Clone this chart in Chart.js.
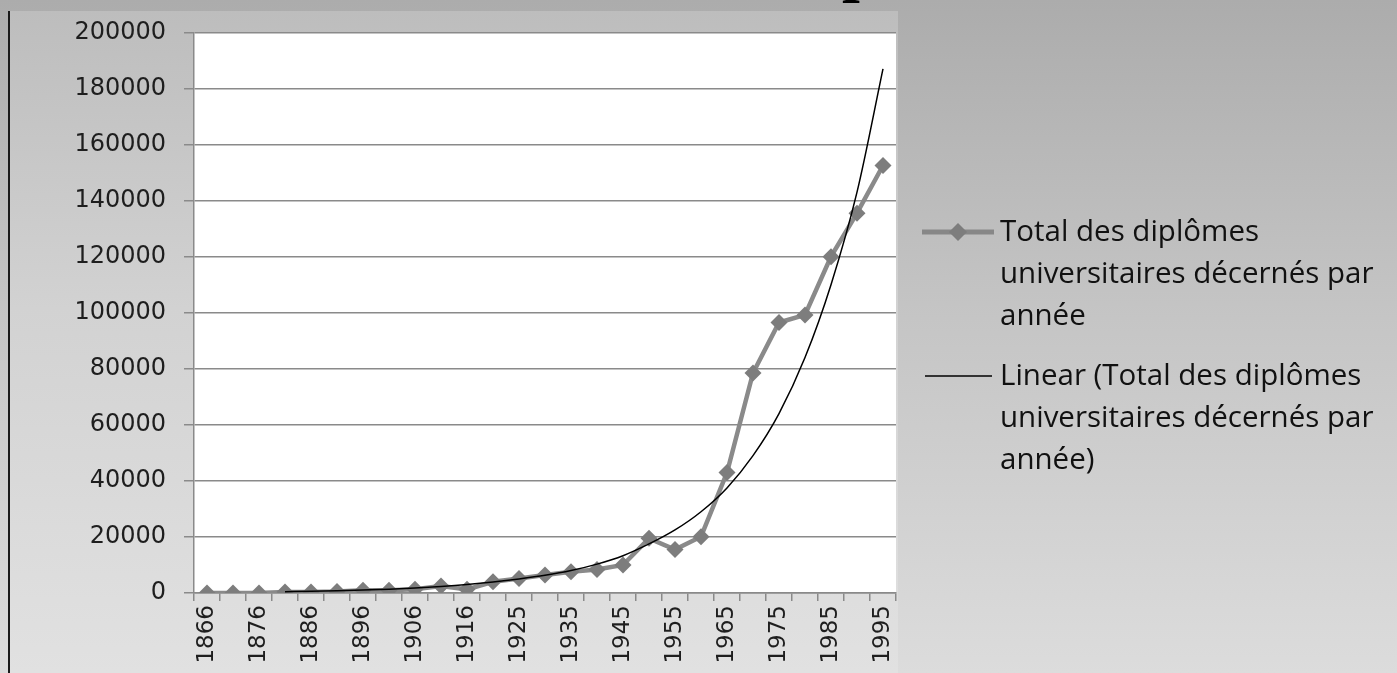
<!DOCTYPE html>
<html>
<head>
<meta charset="utf-8">
<script src="https://cdn.jsdelivr.net/npm/chart.js@4/dist/chart.umd.min.js"></script>
<style>
  html, body { margin: 0; padding: 0; }
  body {
    width: 1397px; height: 673px; overflow: hidden; position: relative;
    background: linear-gradient(to bottom, #acacac 0%, #c4c4c4 45%, #dcdcdc 100%);
  }
  #panel {
    position: absolute; left: 8px; top: 11px; width: 888px; height: 662px;
    border-left: 2px solid #1a1a1a;
    background: linear-gradient(to bottom, #bdbdbd 0%, #d2d2d2 45%, #e1e1e1 100%);
  }
  #title {
    position: absolute; left: 842px; top: -69px; line-height: 64px;
    font: bold 64px "Liberation Serif", serif; color: #000;
  }
  #chart { position: absolute; left: 0; top: 0; }
  #legend {
    position: absolute; left: 920px; top: 209px;
    font-family: "Open Sans", Lato, sans-serif; font-size: 29.5px; line-height: 42px; color: #111;
  }
  .item { position: relative; padding-left: 80px; }
  .item + .item { margin-top: 18px; }
  .item svg { position: absolute; left: 0; top: 11px; }
</style>
</head>
<body>
<div id="panel"></div>
<div id="title">p</div>
<canvas id="chart" width="1397" height="673"></canvas>
<div id="legend">
  <div class="item">
    <svg width="76" height="24"><line x1="2" y1="12" x2="74" y2="12" stroke="#878787" stroke-width="5"/><polygon points="38,3 47,12 38,21 29,12" fill="#7d7d7d"/></svg>
    Total des diplômes<br>universitaires décernés par<br>année
  </div>
  <div class="item">
    <svg width="76" height="24"><line x1="5" y1="12" x2="72" y2="12" stroke="#000" stroke-width="1.5"/></svg>
    Linear (Total des diplômes<br>universitaires décernés par<br>année)
  </div>
</div>
<script>
/* ==== data ========================================================= */
const years = [1866, 1871, 1876, 1881, 1886, 1891, 1896, 1901, 1906, 1911, 1916, 1920, 1925, 1930,
  1935, 1940, 1945, 1950, 1955, 1960, 1965, 1970, 1975, 1980, 1985, 1990, 1995];
// diplomas awarded per year
const diplomas = [0, 0, 0, 400, 400, 500, 1000, 1000, 1300, 2500, 1300, 4000, 5200, 6400,
  7600, 8400, 10000, 19500, 15500, 20100, 43000, 78500, 96500, 99200, 120000, 135500, 152500];
// trend curve as drawn in the picture
const trend = [null, null, null, 470, 600, 800, 1050, 1350, 1750, 2300, 3000, 3900, 5000, 6300,
  8000, 10300, 13300, 17500, 22500, 29000, 37500, 49000, 64000, 84000, 110000, 143000, 187000];
const yTicks = { min: 0, max: 200000, step: 20000 };

/* ==== chart ======================================================== */
const gridCol = '#8a8a8a';
const plotBg = {
  id: 'plotBg',
  beforeDraw(c) {
    const { ctx, chartArea: a } = c;
    ctx.save(); ctx.fillStyle = '#fff';
    ctx.fillRect(a.left, a.top, a.right - a.left, a.bottom - a.top);
    ctx.restore();
  }
};

Chart.defaults.font.family = '"DejaVu Sans", sans-serif';
Chart.defaults.color = '#1e1e1e';

new Chart(document.getElementById('chart'), {
  type: 'line',
  data: {
    labels: years.map(String),
    datasets: [
      {
        label: 'Linear (Total des diplômes universitaires décernés par année)',
        data: trend, order: 0,
        borderColor: '#000', borderWidth: 1.5, pointRadius: 0,
        cubicInterpolationMode: 'monotone', fill: false
      },
      {
        label: 'Total des diplômes universitaires décernés par année',
        data: diplomas, order: 1,
        borderColor: '#8a8a8a', borderWidth: 4.5, tension: 0,
        pointStyle: 'rectRot', pointRadius: 8.5,
        pointBackgroundColor: '#7d7d7d', pointBorderColor: '#7d7d7d', pointBorderWidth: 0
      }
    ]
  },
  options: {
    responsive: false, animation: false,
    layout: { padding: { left: 0, top: 32, right: 501, bottom: 0 } },
    plugins: { legend: { display: false }, tooltip: { enabled: false } },
    scales: {
      x: {
        offset: true,
        grid: { offset: true, drawOnChartArea: false, drawTicks: true, tickLength: 8, color: gridCol, lineWidth: 1.5 },
        border: { color: gridCol, width: 1.5 },
        ticks: {
          autoSkip: false, maxRotation: 90, minRotation: 90, padding: 4,
          font: { size: 23 },
          callback: (v, i) => (i % 2 === 0 ? years[i] : '')
        },
        afterFit: s => { s.height = 80; }
      },
      y: {
        min: yTicks.min, max: yTicks.max,
        grid: { color: gridCol, lineWidth: 1.5, tickLength: 10 },
        border: { color: gridCol, width: 1.5 },
        ticks: { stepSize: yTicks.step, padding: 18, font: { size: 24 }, callback: v => String(v) },
        afterFit: s => { s.width = 194; }
      }
    }
  },
  plugins: [plotBg]
});
</script>
</body>
</html>
